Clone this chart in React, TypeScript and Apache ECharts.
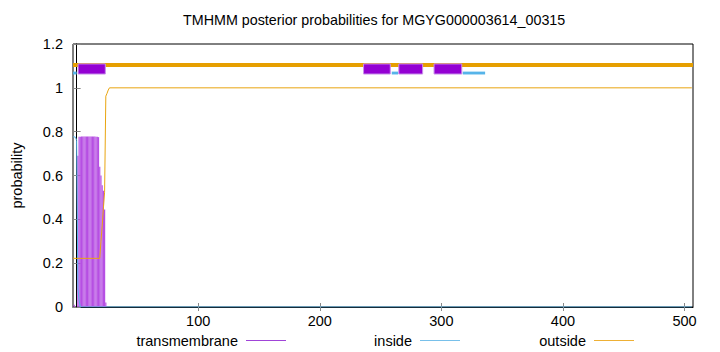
import React, { useEffect, useRef } from "react";
import * as echarts from "echarts";

const chartTitle = "TMHMM posterior probabilities for MGYG000003614_00315";
const yAxisName = "probability";
const xTickValues = [100, 200, 300, 400, 500];
const yTickValues = [0, 0.2, 0.4, 0.6, 0.8, 1, 1.2];

// posterior probability of transmembrane per residue (impulses)
const tmResidues = [-2, 1, 2, 3, 4, 5, 6, 7, 8, 9, 10, 11, 12, 13, 14, 15, 16, 17, 18, 19, 20, 21, 22, 23, 24];
const tmProb = [0.01, 0.69, 0.777, 0.777, 0.778, 0.778, 0.778, 0.778, 0.778, 0.778, 0.778, 0.778, 0.778, 0.778, 0.778, 0.778, 0.777, 0.777, 0.775, 0.64, 0.6, 0.555, 0.53, 0.445, 0.02];

// inside / outside probability curves (residue, probability)
const insideResidues = [-3, -1, 0, 1, 2, 3, 506];
const insideProb = [0.777, 0.775, 0.76, 0.09, 0.03, 0, 0];
const outsideResidues = [-3, 19, 20, 21, 22, 23, 24, 25, 26, 27, 506];
const outsideProb = [0.222, 0.222, 0.3, 0.37, 0.45, 0.524, 0.962, 0.975, 0.99, 1, 1];

// predicted topology segments (start, end residue)
const tmSegStart = [1.2, 236, 265, 294];
const tmSegEnd = [23.6, 258, 284.6, 316.8];
const inSegStart = [-3, 259.2, 317.6];
const inSegEnd = [0, 264.4, 336];
const outSegStart = [-3];
const outSegEnd = [507];

const FONT = "'Liberation Sans', Arial, Helvetica, sans-serif";
const X_MIN = -3;
const X_MAX = 507;

const rectSeries = (starts: number[], ends: number[], top: number, bottom: number, fill: string, stroke: string | null, z: number) => ({
  type: "custom",
  silent: true,
  z,
  data: starts.map((s, i) => [s, ends[i], top, bottom]),
  encode: { x: [0, 1], y: [2, 3] },
  renderItem: (_params: any, api: any) => {
    const p1 = api.coord([api.value(0), api.value(2)]);
    const p2 = api.coord([api.value(1), api.value(3)]);
    return {
      type: "rect",
      shape: { x: p1[0], y: p1[1], width: p2[0] - p1[0], height: p2[1] - p1[1] },
      style: stroke ? { fill, stroke, lineWidth: 1 } : { fill },
    };
  },
});

export default function App() {
  const ref = useRef<HTMLDivElement>(null);
  useEffect(() => {
    if (!ref.current) return;
    const chart = echarts.init(ref.current, null, { renderer: "svg" });
    const legendBase = {
      top: 333,
      align: "right",
      icon: "rect",
      itemWidth: 40,
      itemHeight: 1,
      padding: 0,
      itemStyle: { borderWidth: 0 },
      textStyle: { fontSize: 14.5, color: "#000", fontFamily: FONT, padding: [0, 3, 0, 0] },
    };
    chart.setOption({
      animation: false,
      backgroundColor: "#fff",
      title: {
        text: chartTitle,
        left: 183,
        top: 13,
        padding: 0,
        textStyle: { fontSize: 14.3, fontWeight: "normal", color: "#000", fontFamily: FONT },
      },
      legend: [
        { ...legendBase, right: 434, data: [{ name: "transmembrane", itemStyle: { color: "#a044d8", borderWidth: 0 } }] },
        { ...legendBase, right: 260, data: [{ name: "inside", itemStyle: { color: "#78c0ea", borderWidth: 0 } }] },
        { ...legendBase, right: 86, data: [{ name: "outside", itemStyle: { color: "#eeb035", borderWidth: 0 } }] },
      ],
      grid: { left: 73, right: 27, top: 44, bottom: 45, show: true, borderColor: "#000", borderWidth: 1 },
      xAxis: [
        {
          type: "value",
          min: X_MIN,
          max: X_MAX,
          position: "bottom",
          axisLine: { show: true, lineStyle: { color: "#000" } },
          splitLine: { show: false },
          axisTick: { show: true, inside: true, length: 4, customValues: xTickValues, lineStyle: { color: "#888" } },
          axisLabel: { customValues: xTickValues, color: "#000", fontSize: 14.5, fontFamily: FONT, margin: 6 },
        },
        {
          type: "value",
          min: X_MIN,
          max: X_MAX,
          position: "top",
          axisLine: { show: false },
          splitLine: { show: false },
          axisTick: { show: true, inside: true, length: 4, customValues: xTickValues, lineStyle: { color: "#888" } },
          axisLabel: { show: false },
        },
      ],
      yAxis: [
        {
          type: "value",
          min: 0,
          max: 1.2,
          interval: 0.2,
          name: yAxisName,
          nameLocation: "middle",
          nameGap: 49,
          nameTextStyle: { fontSize: 14.5, color: "#000", fontFamily: FONT },
          axisLine: { show: true, lineStyle: { color: "#000" } },
          splitLine: { show: false },
          axisTick: { show: true, inside: true, length: 4, customValues: yTickValues, lineStyle: { color: "#888" } },
          axisLabel: {
            customValues: yTickValues,
            color: "#000",
            fontSize: 14.5,
            fontFamily: FONT,
            margin: 10,
            formatter: (v: number) => String(Math.round(v * 10) / 10),
          },
        },
        {
          type: "value",
          min: 0,
          max: 1.2,
          interval: 0.2,
          position: "right",
          axisLine: { show: false },
          splitLine: { show: false },
          axisTick: { show: true, inside: true, length: 4, customValues: yTickValues, lineStyle: { color: "#888" } },
          axisLabel: { show: false },
        },
      ],
      series: [
        {
          name: "transmembrane",
          type: "bar",
          barWidth: 1.2,
          z: 2,
          itemStyle: { color: "#b64fe3" },
          data: tmResidues.map((r, i) => [r, tmProb[i]]),
        },
        {
          name: "inside",
          type: "line",
          showSymbol: false,
          z: 3,
          lineStyle: { color: "#56b4e9", width: 1 },
          itemStyle: { color: "#56b4e9" },
          data: insideResidues.map((r, i) => [r, insideProb[i]]),
        },
        {
          name: "outside",
          type: "line",
          showSymbol: false,
          z: 4,
          lineStyle: { color: "#e9a510", width: 1 },
          itemStyle: { color: "#e9a510" },
          data: outsideResidues.map((r, i) => [r, outsideProb[i]]),
        },
        rectSeries(outSegStart, outSegEnd, 1.1136, 1.0955, "#e69f00", null, 5),
        rectSeries(inSegStart, inSegEnd, 1.074, 1.061, "#56b4e9", null, 6),
        rectSeries(tmSegStart, tmSegEnd, 1.109, 1.063, "#9400d3", "#c890ea", 7),
      ],
    });
    return () => chart.dispose();
  }, []);
  return <div ref={ref} style={{ width: 720, height: 352, position: "absolute", left: 0, top: 0 }} />;
}
